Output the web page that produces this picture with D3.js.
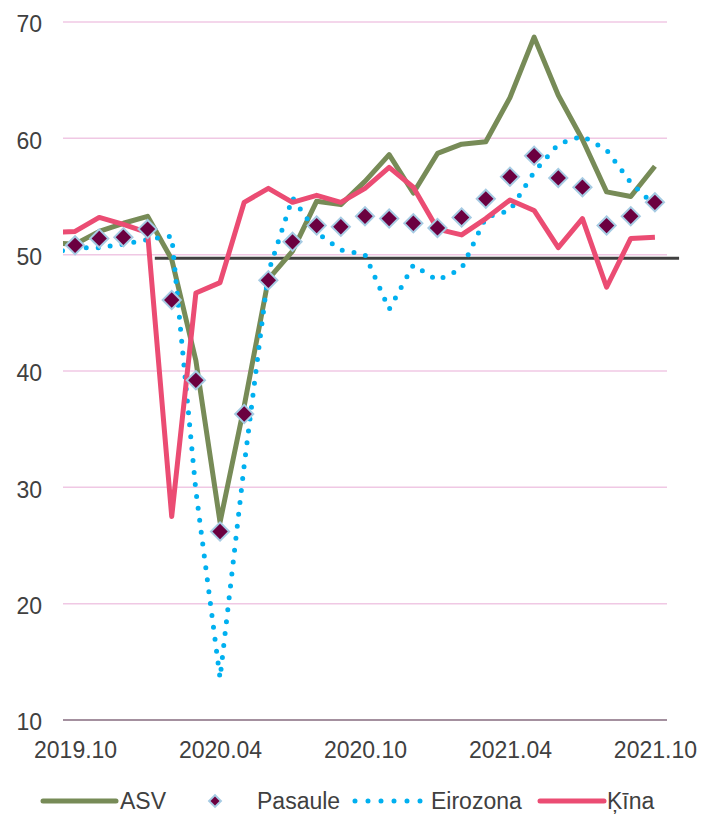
<!DOCTYPE html>
<html>
<head>
<meta charset="utf-8">
<script src="https://cdn.jsdelivr.net/npm/d3@7"></script>
<style>
  body { margin: 0; background: #fff; }
  text { font-family: "Liberation Sans", Arial, sans-serif; fill: #404040; }
</style>
</head>
<body>
<div id="chart"></div>
<script>
// months (first one is only used so the lines run in from the left edge)
var months = ["2019.09", "2019.10", "2019.11", "2019.12", "2020.01", "2020.02", "2020.03",
  "2020.04", "2020.05", "2020.06", "2020.07", "2020.08", "2020.09", "2020.10", "2020.11",
  "2020.12", "2021.01", "2021.02", "2021.03", "2021.04", "2021.05", "2021.06", "2021.07",
  "2021.08", "2021.09", "2021.10"];
var tickLabels = ["2019.10", "2020.04", "2020.10", "2021.04", "2021.10"];
var yTicks = [10, 20, 30, 40, 50, 60, 70];

var asv = [51.0, 50.9, 52.0, 52.7, 53.3, 49.6, 40.9, 27.0, 37.0, 47.9, 50.3, 54.6, 54.3,
  56.3, 58.6, 55.3, 58.7, 59.5, 59.7, 63.5, 68.7, 63.7, 59.9, 55.4, 55.0, 57.6];
var pasaule = [null, 50.8, 51.4, 51.5, 52.2, 46.1, 39.2, 26.2, 36.3, 47.8, 51.1, 52.5, 52.4,
  53.3, 53.1, 52.7, 52.3, 53.2, 54.8, 56.7, 58.5, 56.6, 55.8, 52.5, 53.3, 54.5];
var eirozona = [50.1, 50.6, 50.6, 50.9, 51.3, 51.6, 29.7, 13.6, 31.9, 48.5, 54.9, 51.9, 50.4,
  50.0, 45.3, 49.1, 47.8, 48.8, 53.2, 53.8, 57.1, 59.5, 60.2, 59.0, 56.2, 54.2];
var kina = [51.9, 52.0, 53.2, 52.6, 51.9, 27.5, 46.7, 47.6, 54.5, 55.7, 54.5, 55.1, 54.5,
  55.7, 57.5, 55.8, 52.2, 51.7, 53.1, 54.7, 53.8, 50.6, 53.1, 47.2, 51.4, 51.5];

// threshold line drawn on the chart
var refValue = 49.7, refFrom = 4.3, refTo = 26;

var width = 702, height = 814;
var margin = { left: 63, right: 667, top: 22, bottom: 720 };

var svg = d3.select("#chart").append("svg")
  .attr("width", width)
  .attr("height", height);

var x = d3.scaleLinear().domain([0.5, months.length - 0.5]).range([margin.left, margin.right]);
var y = d3.scaleLinear().domain([10, 70]).range([margin.bottom, margin.top]);

svg.append("clipPath").attr("id", "plot")
  .append("rect")
  .attr("x", margin.left).attr("y", 0)
  .attr("width", margin.right - margin.left).attr("height", height);

// grid lines
svg.append("g")
  .selectAll("line")
  .data(yTicks.filter(function (d) { return d > 10; }))
  .enter().append("line")
  .attr("x1", margin.left).attr("x2", margin.right)
  .attr("y1", function (d) { return y(d); })
  .attr("y2", function (d) { return y(d); })
  .style("stroke", "#F0C8E4")
  .style("stroke-width", 1.5);

// y labels
var yAxis = svg.append("g")
  .attr("transform", "translate(" + (margin.left - 21) + ",0)")
  .call(d3.axisLeft(y).tickValues(yTicks).tickSize(0).tickPadding(0).tickFormat(d3.format("d")));
yAxis.select(".domain").remove();
yAxis.selectAll("text")
  .style("font-size", "23px")
  .style("font-family", "'Liberation Sans', Arial, sans-serif")
  .attr("fill", "#404040")
  .attr("dy", "0.42em");

// bottom axis line
svg.append("line")
  .attr("x1", margin.left).attr("x2", margin.right)
  .attr("y1", y(10)).attr("y2", y(10))
  .style("stroke", "#4B2340")
  .style("stroke-width", 1.2);

// x labels
var xAxis = svg.append("g")
  .attr("transform", "translate(0," + margin.bottom + ")")
  .call(d3.axisBottom(x)
    .tickValues(tickLabels.map(function (t) { return months.indexOf(t); }))
    .tickFormat(function (i) { return months[i]; })
    .tickSize(0).tickPadding(0));
xAxis.select(".domain").remove();
xAxis.selectAll("text")
  .style("font-size", "23px")
  .style("font-family", "'Liberation Sans', Arial, sans-serif")
  .attr("fill", "#404040")
  .attr("dy", "1.65em");

// reference line
svg.append("line")
  .attr("x1", x(refFrom)).attr("x2", x(refTo))
  .attr("y1", y(refValue)).attr("y2", y(refValue))
  .style("stroke", "#404040")
  .style("stroke-width", 3);

var line = d3.line()
  .defined(function (d) { return d != null; })
  .x(function (d, i) { return x(i); })
  .y(function (d) { return y(d); });

var lines = svg.append("g").attr("clip-path", "url(#plot)");

lines.append("path")
  .datum(asv)
  .attr("d", line)
  .style("fill", "none")
  .style("stroke", "#778B57")
  .style("stroke-width", 5)
  .style("stroke-linejoin", "round");

lines.append("path")
  .datum(eirozona)
  .attr("d", line)
  .style("fill", "none")
  .style("stroke", "#00B0F0")
  .style("stroke-width", 5)
  .style("stroke-linecap", "round")
  .style("stroke-dasharray", "0,12");

lines.append("path")
  .datum(kina)
  .attr("d", line)
  .style("fill", "none")
  .style("stroke", "#EB4C73")
  .style("stroke-width", 5)
  .style("stroke-linejoin", "round");

// Pasaule markers
var diamond = d3.symbol().type(d3.symbolSquare).size(165);
svg.append("g")
  .selectAll("path")
  .data(pasaule.map(function (v, i) { return { i: i, v: v }; })
    .filter(function (d) { return d.v != null; }))
  .enter().append("path")
  .attr("d", diamond)
  .attr("transform", function (d) {
    return "translate(" + x(d.i) + "," + y(d.v) + ") rotate(45)";
  })
  .style("fill", "#6B0040")
  .style("stroke", "#A6CBE3")
  .style("stroke-width", 2);

// legend
var legY = 801;
var leg = svg.append("g");

leg.append("line")
  .attr("x1", 43).attr("x2", 116).attr("y1", legY).attr("y2", legY)
  .style("stroke", "#778B57").style("stroke-width", 5).style("stroke-linecap", "round");
leg.append("text").attr("x", 120).attr("y", legY + 8).style("font-size", "23px").text("ASV");

leg.append("path")
  .attr("d", d3.symbol().type(d3.symbolSquare).size(70))
  .attr("transform", "translate(215," + legY + ") rotate(45)")
  .style("fill", "#6B0040").style("stroke", "#A6CBE3").style("stroke-width", 2);
leg.append("text").attr("x", 257).attr("y", legY + 8).style("font-size", "23px").text("Pasaule");

leg.append("line")
  .attr("x1", 355).attr("x2", 421).attr("y1", legY).attr("y2", legY)
  .style("stroke", "#00B0F0").style("stroke-width", 5)
  .style("stroke-linecap", "round").style("stroke-dasharray", "0,13");
leg.append("text").attr("x", 431).attr("y", legY + 8).style("font-size", "23px").text("Eirozona");

leg.append("line")
  .attr("x1", 540).attr("x2", 604).attr("y1", legY).attr("y2", legY)
  .style("stroke", "#EB4C73").style("stroke-width", 5).style("stroke-linecap", "round");
leg.append("text").attr("x", 607).attr("y", legY + 8).style("font-size", "23px").text("Ķīna");
</script>
</body>
</html>
